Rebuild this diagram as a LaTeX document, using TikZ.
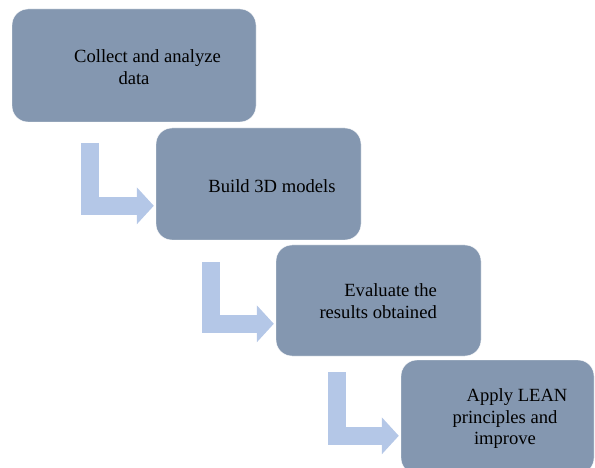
\documentclass[tikz,border=0pt]{standalone}
\usepackage{fontspec}
\setmainfont{Liberation Serif}
\usetikzlibrary{arrows.meta,positioning}
\definecolor{slateblue}{HTML}{8497B0}
\definecolor{paleblue}{HTML}{B4C7E7}

\begin{document}
\begin{tikzpicture}[
    x=1pt, y=-1pt,
    stepbox/.style={draw=white, thin, rounded corners=16pt, fill=slateblue,
                    minimum height=112pt, inner sep=0pt},
    steptext/.style={font=\fontsize{18.6}{21.5}\selectfont, inner sep=0pt},
    bentarrow/.style={draw=paleblue, line width=18pt, shorten >=2pt,
                      -{Triangle[length=17pt, width=36pt]}}
]
    \useasboundingbox (0,0) rectangle (595,468);
    \clip (0,0) rectangle (595,468);

    \node[stepbox, minimum width=244pt, minimum height=113pt] (collect) at (134,65.5) {};
    \node[stepbox, minimum width=205pt] (build) at (258.5,184) {};
    \node[stepbox, minimum width=205pt, minimum height=111pt] (evaluate) at (378.5,300.5) {};
    \node[stepbox, minimum width=193pt, minimum height=114pt] (apply) at (497.5,417) {};

    \node[steptext, align=center] (collect-txt) at (147.5,67) {Collect and analyze\\\hspace*{-27pt}data};
    \node[steptext] (build-txt) at (272,186) {Build 3D models};
    \node[steptext, align=right, anchor=east] (evaluate-txt) at (437,301) {Evaluate the\\results obtained};
    \node[steptext, align=center] (apply-txt) at (505,419) {\hspace*{24pt}Apply LEAN\\principles and\\improve};

    \coordinate (collect-out) at (90,143);
    \coordinate (build-out) at (211,262);
    \coordinate (evaluate-out) at (336.5,372);

    \draw[bentarrow] (collect-out) |- ([yshift=-78pt]build.north west);
    \draw[bentarrow] (build-out) |- ([yshift=-79pt]evaluate.north west);
    \draw[bentarrow] (evaluate-out) |- ([yshift=-76pt]apply.north west);
\end{tikzpicture}
\end{document}
